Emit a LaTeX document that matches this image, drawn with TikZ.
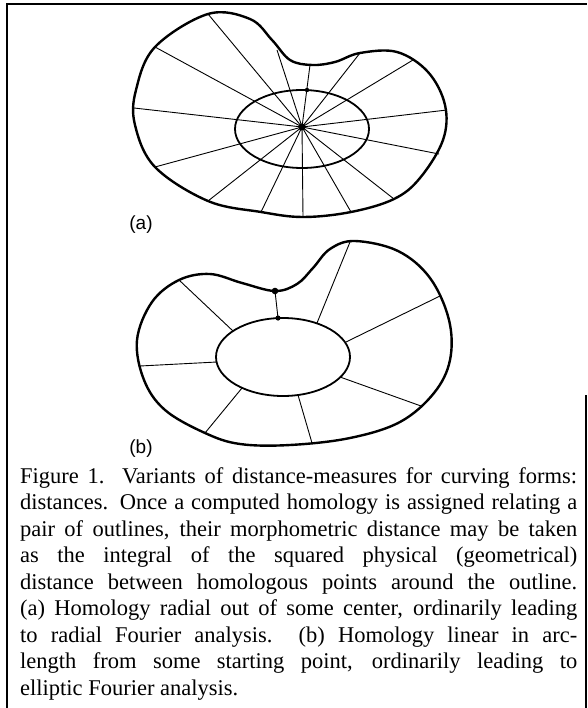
\documentclass[tikz,border=0pt]{standalone}
\usepackage{fontspec}
\setmainfont{Liberation Serif}
\newfontfamily\labfont{Liberation Sans}
\newcommand{\mycapfont}{\fontsize{22.5}{26.5}\selectfont}
\begin{document}
\begin{tikzpicture}[x=1pt,y=-1pt,
  outline/.style={line width=2.4pt, line join=round},
  innerell/.style={line width=1.8pt},
  ray/.style={line width=0.9pt},
  frame/.style={line width=1.3pt},
  sublabel/.style={font=\labfont\fontsize{19}{22}\selectfont, inner sep=0pt},
  capline/.style={anchor=base west, inner sep=0pt, font=\mycapfont}]
\useasboundingbox (0,0) rectangle (587,708);
\fill[white] (0,0) rectangle (587,708);
% frame
\draw[frame] (7,708) -- (7,4) -- (587,4);
\draw[frame] (586,395) -- (586,708);

% ---------------- (a) radial homology ----------------
\coordinate (ca) at (302,127);
\foreach \x/\y [count=\i] in {208/14,155/47,134/108,155/167,208/201,261/212,303/217,351/212,394/199,439/154,447/110,413/60,360/53,310/65,277/50}
  {\coordinate (ea\i) at (\x,\y); \draw[ray] (ca) -- (ea\i);}
\draw[innerell] (302,129) ellipse [x radius=67, y radius=39];
\draw[outline] plot[smooth cycle, tension=0.6] coordinates {
 (208,14) (250,19) (272,40) (290,60) (312,65) (335,62) (360,53) (397,52) (428,72) (445,105) (443,140) (420,178) (394,199) (351,212) (303,217) (261,212) (208,201) (155,167) (135,125) (136,90) (155,47)};
\coordinate (ta) at (307,90);
\fill (ca) circle [radius=3.6];
\fill (ta) circle [radius=2.2];
\node[sublabel] (la) at (141,225) {(a)};

% ---------------- (b) arc-length homology ----------------
\draw[innerell] (283,357) ellipse [x radius=67, y radius=39];
\coordinate (ob1) at (179,280); \coordinate (ib1) at (233,331);
\coordinate (ob2) at (275,291); \coordinate (ib2) at (278,318);
\coordinate (ob3) at (350,242); \coordinate (ib3) at (317,323);
\coordinate (ob4) at (440,296); \coordinate (ib4) at (346,342);
\coordinate (ob5) at (421,406); \coordinate (ib5) at (340,377);
\coordinate (ob6) at (312,443); \coordinate (ib6) at (298,395);
\coordinate (ob7) at (205,433); \coordinate (ib7) at (242,388);
\coordinate (ob8) at (140,366); \coordinate (ib8) at (217,362);
\foreach \i in {1,...,8} {\draw[ray] (ob\i) -- (ib\i);}
\draw[outline] plot[smooth cycle, tension=0.6] coordinates {
 (137,340) (152,302) (179,280) (210,274) (242,283) (275,291) (297,284) (313,268) (330,249) (355,241) (398,251) (430,278) (449,320) (450,360) (434,393) (400,422) (350,438) (290,445) (240,444) (205,433) (165,410) (144,380)};
\fill (ob2) circle [radius=3.3];
\fill (ib2) circle [radius=2.6];
\node[sublabel] (lb) at (141,449) {(b)};

% ---------------- caption ----------------
\node[capline] (c1) at (20,483) {\makebox[557pt][s]{Figure 1.\ \ Variants of distance-measures for curving forms:}};
\node[capline] (c2) at (20,509.5) {\makebox[557pt][s]{distances. Once a computed homology is assigned relating a}};
\node[capline] (c3) at (20,536) {\makebox[557pt][s]{pair of outlines, their morphometric distance may be taken}};
\node[capline] (c4) at (20,562.5) {\makebox[557pt][s]{as the integral of the squared physical (geometrical)}};
\node[capline] (c5) at (20,589) {\makebox[557pt][s]{distance between homologous points around the outline.}};
\node[capline] (c6) at (20,615.5) {\makebox[557pt][s]{(a) Homology radial out of some center, ordinarily leading}};
\node[capline] (c7) at (20,642) {\makebox[557pt][s]{to radial Fourier analysis.\ \ (b) Homology linear in arc-}};
\node[capline] (c8) at (20,668.5) {\makebox[557pt][s]{length from some starting point, ordinarily leading to}};
\node[capline] (c9) at (20,695) {elliptic Fourier analysis.};
\end{tikzpicture}
\end{document}
